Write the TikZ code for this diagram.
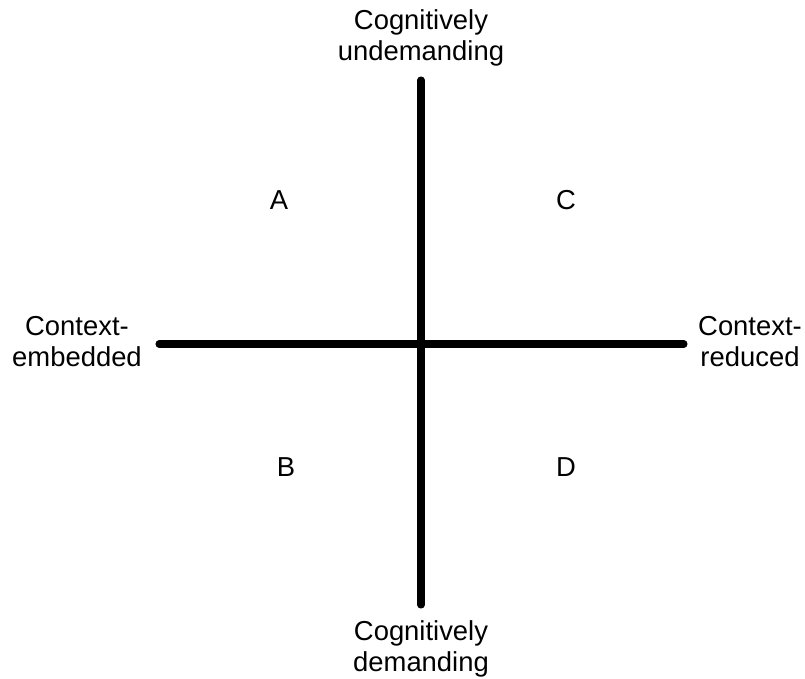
\documentclass[tikz,border=0pt]{standalone}
\usepackage{fontspec}
\setmainfont{Liberation Sans}
\usepackage{tikz}

\begin{document}
\begin{tikzpicture}[x=0.02cm,y=-0.02cm,
  lbl/.style={align=center,font=\fontsize{15.6}{17.6}\selectfont,inner sep=0pt},
  axis/.style={line width=4pt,line cap=round}]
\useasboundingbox (0,0) rectangle (805,679);
\node[lbl] (v0) at (421,38) {Cognitively\\undemanding};
\node[lbl] (v1) at (421,649) {Cognitively\\demanding};
\node[lbl] (v2) at (77,342) {Context-\\embedded};
\node[lbl] (v3) at (750,342) {Context-\\reduced};
\node[lbl] (v4) at (279,200) {A};
\node[lbl] (v5) at (566,200) {C};
\node[lbl] (v6) at (286,467) {B};
\node[lbl] (v7) at (566,467) {D};
\coordinate (t) at (421,80);
\coordinate (b) at (421,605);
\coordinate (l) at (159,344);
\coordinate (r) at (684,344);
\draw [axis] (t) -- (b);
\draw [axis] (l) -- (r);
\end{tikzpicture}
\end{document}
